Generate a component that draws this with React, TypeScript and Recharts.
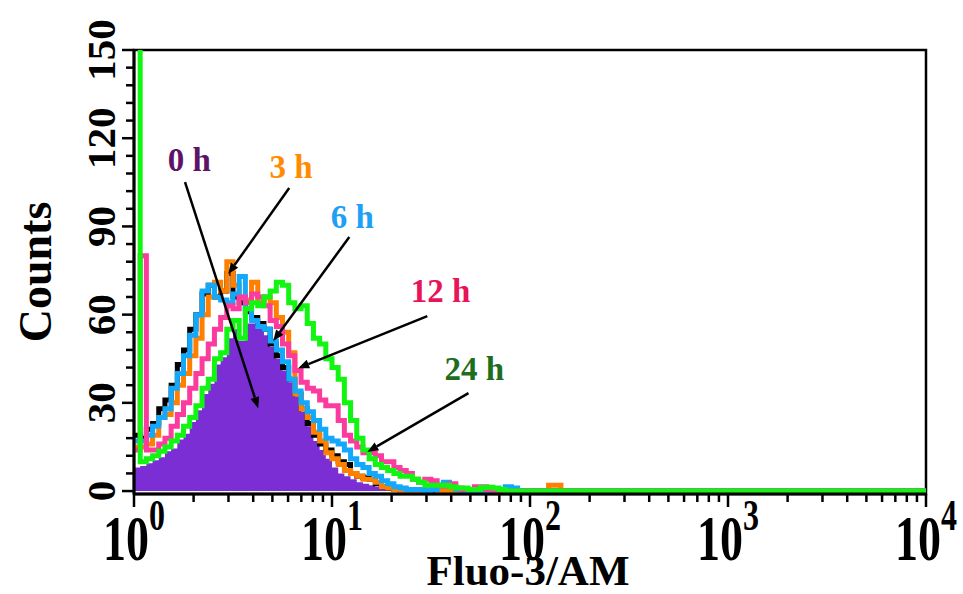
import {
  ComposedChart, Area, Line, XAxis, YAxis,
  ReferenceLine, ReferenceDot, ReferenceArea, Label
} from 'recharts';

// Fluo-3/AM intensity histograms, 32 channels per decade starting at 10^0
const CHANNELS_PER_DECADE = 32;

// counts per channel for each time point
const countsControl = [
  19, 18, 21, 23, 28, 31, 36, 43, 48, 55, 60, 67, 70, 66, 68, 74, 66, 64, 61, 59,
  57, 55, 50, 46, 42, 38, 33, 28, 23, 19, 16, 14, 12, 10, 9, 6, 5, 4.5, 4, 2.5,
  1.5, 1, 0.5, 0, 0, 0, 0, 0, 0, 0, 0, 0, 0, 0, 0, 0, 0, 0, 0, 0,
  0, 0, 0, 0, 0, 0, 0, 0, 0, 0, 0, 0,
];
const counts0h = [
  8, 8.5, 9.5, 10.5, 11.5, 13.5, 14.5, 17.5, 19.5, 23.5, 27.5, 33, 36.5, 43, 45.5, 52, 55, 51, 57, 57,
  56, 53, 49, 45, 41, 37, 32, 27, 22, 17, 14, 11, 8, 6, 5, 4, 3, 2.5, 2, 1.5,
  1, 1, 0.5, 0.5, 0, 0, 0, 0, 0, 0, 0, 0, 0, 0, 0, 0, 0, 0, 0, 0,
  0, 0, 0, 0, 0, 0, 0, 0, 0, 0, 0, 0,
];
const counts3h = [
  15, 15, 16, 19, 25, 26, 30, 36, 40, 46, 52, 60, 66, 71, 68, 78, 70, 66, 65, 71,
  64, 66, 64, 59, 54, 47, 33, 28, 25, 20, 17, 13, 11, 9, 7, 6, 5, 4, 4, 3,
  1.5, 1, 0.5, 0, 0, 0, 0, 0.5, 1, 0, 0, 0, 0, 0, 0, 0, 0, 0, 0, 0,
  0, 0, 0, 0, 0, 0, 0, 2, 2, 0, 0, 0,
];
const counts6h = [
  17, 17, 19, 22, 25, 28, 35, 40, 46, 53, 60, 68, 70, 66, 65, 64, 67, 73, 62, 58,
  56, 55, 51, 48, 44, 38, 34, 30, 27, 24, 21, 18, 17, 16, 14, 11, 9, 8, 6, 5,
  3.5, 2.5, 1.5, 1, 0.5, 0.5, 0.5, 0, 0.5, 2, 3, 2, 0.5, 0, 0, 0, 0, 0, 0, 0.5,
  1.5, 1, 0, 0, 0, 0, 0, 0, 0, 0, 0, 0,
];
const counts12h = [
  14, 80, 14, 14, 16, 18, 22, 26, 30, 35, 40, 45, 50, 55, 59, 63, 62, 66, 64, 67,
  66, 63, 58, 56, 50, 46, 41, 37, 35, 34, 31, 29, 29, 24, 19, 17, 15, 13, 13, 12,
  10, 10, 8, 7, 6, 4, 3, 4, 3.5, 2, 2, 2.5, 1, 0.5, 0.5, 1.5, 1.5, 0.5, 0, 0,
  0, 0, 0, 0, 0, 0, 0, 0, 0, 0, 0, 0,
];
const counts24h = [
  160, 10, 11, 12, 13.5, 15, 17, 19, 22, 25, 29, 35, 38, 45, 47, 55, 58, 52, 62, 64,
  63, 66, 68, 71, 70, 64, 62, 63, 57, 52, 50, 45, 42, 38, 30, 24, 18, 14, 11, 9,
  8, 7, 6, 5, 5, 4, 3, 2, 2, 2, 2, 1.5, 1, 1, 0.5, 0.5, 1.2, 1.3, 1, 0.5,
  0, 0, 0, 0, 0, 0, 0, 0, 0, 0, 0, 0,
];

const decades = [1, 10, 100, 1000];
const minorSteps = [1, 2, 3, 4, 5, 6, 7, 8, 9];
const xTicks = decades.flatMap((d) => minorSteps.map((m) => m * d)).concat(10000);
const yLabelTicks = [0, 30, 60, 90, 120, 150];
const yTicks = Array.from({ length: 26 }, (_, i) => i * 6);

// arrow annotations, in data coordinates
const notes = [
  { text: '0 h', color: '#5c1466', at: [1.9, 112.6], from: [1.81, 105.1], to: [4.24, 28.2] },
  { text: '3 h', color: '#ff8c00', at: [6.22, 110.2], from: [6.08, 103.1], to: [2.99, 73.8] },
  { text: '6 h', color: '#1ea0f5', at: [12.66, 93.2], from: [12.23, 86.4], to: [5.05, 51.0] },
  { text: '12 h', color: '#e8145a', at: [35.3, 68.0], from: [30.3, 59.5], to: [6.75, 41.8] },
  { text: '24 h', color: '#1e6e1e', at: [52.4, 41.5], from: [48.9, 33.3], to: [15.08, 13.3] },
];

const nBins = counts0h.length;
const data = counts0h.map((_, k) => ({
  x: 10 ** (k / CHANNELS_PER_DECADE),
  ctrl: countsControl[k],
  h0: counts0h[k],
  h3: counts3h[k],
  h6: counts6h[k],
  h12: counts12h[k],
  h24: counts24h[k],
}));
data.push({ x: 10 ** (nBins / CHANNELS_PER_DECADE), ctrl: 0, h0: 0, h3: 0, h6: 0, h12: 0, h24: 0 });
data.push({ x: 10000, ctrl: 0, h0: 0, h3: 0, h6: 0, h12: 0, h24: 0 });

const FONT = '"Liberation Serif", "Times New Roman", serif';
const LINE_W = 5;

function XTick(props: any) {
  const { x, y, payload } = props;
  const v = payload.value;
  const exp = Math.round(Math.log10(v));
  const major = Math.abs(10 ** exp - v) < 1e-6;
  return (
    <g>
      <line x1={x} x2={x} y1={y} y2={y + (major ? 13 : 8)} stroke="#000" strokeWidth={2.5} />
      {major && (
        <g transform={`translate(${x},${y + 66}) scale(1,1.38)`}>
          <text textAnchor="middle" fontFamily={FONT} fontWeight="bold" fontSize={46} fill="#000">
            <tspan>10</tspan>
            <tspan dy={-22} fontSize={32}>{exp}</tspan>
          </text>
        </g>
      )}
    </g>
  );
}

function YTick(props: any) {
  const { x, y, payload } = props;
  const major = yLabelTicks.includes(payload.value);
  return (
    <g>
      <line x1={x - (major ? 12 : 8)} x2={x} y1={y} y2={y} stroke="#000" strokeWidth={2.5} />
      {major && (
        <text
          transform={`translate(${x - 19},${y}) rotate(-90)`}
          textAnchor="middle"
          fontFamily={FONT}
          fontWeight="bold"
          fontSize={41}
          fill="#000"
        >
          {payload.value}
        </text>
      )}
    </g>
  );
}

function Arrow(props: any) {
  const { x1, y1, x2, y2 } = props;
  const a = Math.atan2(y2 - y1, x2 - x1);
  const len = 11;
  const half = 4.5;
  const bx = x2 - len * Math.cos(a);
  const by = y2 - len * Math.sin(a);
  const px = -Math.sin(a) * half;
  const py = Math.cos(a) * half;
  return (
    <g>
      <line x1={x1} y1={y1} x2={bx} y2={by} stroke="#000" strokeWidth={2.5} />
      <polygon points={`${x2},${y2} ${bx + px},${by + py} ${bx - px},${by - py}`} fill="#000" />
    </g>
  );
}

export default function App() {
  return (
    <div style={{ position: 'absolute', left: 0, top: 0, width: 963, height: 594, background: '#fff' }}>
      <ComposedChart
        width={963}
        height={594}
        data={data}
        margin={{ top: 50, right: 37, bottom: 0, left: 0 }}
      >
        <XAxis
          dataKey="x"
          type="number"
          scale="log"
          domain={[1, 10000]}
          allowDataOverflow
          ticks={xTicks}
          interval={0}
          height={100}
          tickSize={0}
          tickMargin={0}
          tickLine={false}
          axisLine={{ stroke: '#000', strokeWidth: 3 }}
          tick={XTick}
        >
          <Label
            content={(p: any) => {
              const vb = p.viewBox;
              return (
                <text x={vb.x + vb.width / 2 - 2} y={vb.y + 91} textAnchor="middle"
                  fontFamily={FONT} fontWeight="bold" fontSize={43} fill="#000">
                  Fluo-3/AM
                </text>
              );
            }}
          />
        </XAxis>
        <YAxis
          type="number"
          domain={[-1, 150]}
          allowDataOverflow
          ticks={yTicks}
          interval={0}
          width={134}
          tickSize={0}
          tickMargin={0}
          tickLine={false}
          axisLine={{ stroke: '#000', strokeWidth: 3 }}
          tick={YTick}
        >
          <Label
            content={(p: any) => {
              const vb = p.viewBox;
              const cy = vb.y + vb.height / 2;
              return (
                <text transform={`translate(${vb.x + 51},${cy}) rotate(-90)`} textAnchor="middle"
                  fontFamily={FONT} fontWeight="bold" fontSize={46} fill="#000">
                  Counts
                </text>
              );
            }}
          />
        </YAxis>

        <Area dataKey="h0" type="stepAfter" fill="#7b2ed3" fillOpacity={1} stroke="none"
          isAnimationActive={false} dot={false} activeDot={false} />
        <Line dataKey="ctrl" type="stepAfter" stroke="#000" strokeWidth={LINE_W} strokeLinejoin="miter"
          isAnimationActive={false} dot={false} activeDot={false} />
        <Line dataKey="h3" type="stepAfter" stroke="#ff8000" strokeWidth={LINE_W} strokeLinejoin="miter"
          isAnimationActive={false} dot={false} activeDot={false} />
        <Line dataKey="h6" type="stepAfter" stroke="#14a8fa" strokeWidth={LINE_W} strokeLinejoin="miter"
          isAnimationActive={false} dot={false} activeDot={false} />
        <Line dataKey="h12" type="stepAfter" stroke="#fb3c9e" strokeWidth={LINE_W} strokeLinejoin="miter"
          isAnimationActive={false} dot={false} activeDot={false} />
        <Line dataKey="h24" type="stepAfter" stroke="#12f512" strokeWidth={LINE_W} strokeLinejoin="miter"
          isAnimationActive={false} dot={false} activeDot={false} />

        <ReferenceArea x1={1} x2={10000} y1={-1} y2={150} fill="none" stroke="#000" strokeWidth={2.5} />

        {notes.map((n) => (
          <ReferenceLine
            key={n.text + '-arrow'}
            segment={[{ x: n.from[0], y: n.from[1] }, { x: n.to[0], y: n.to[1] }]}
            shape={Arrow}
          />
        ))}
        {notes.map((n) => (
          <ReferenceDot
            key={n.text}
            x={n.at[0]}
            y={n.at[1]}
            r={0}
            shape={(p: any) => (
              <text x={p.cx} y={p.cy} textAnchor="middle" dominantBaseline="central"
                fontFamily={FONT} fontWeight="bold" fontSize={33} fill={n.color}>
                {n.text}
              </text>
            )}
          />
        ))}
      </ComposedChart>
    </div>
  );
}
